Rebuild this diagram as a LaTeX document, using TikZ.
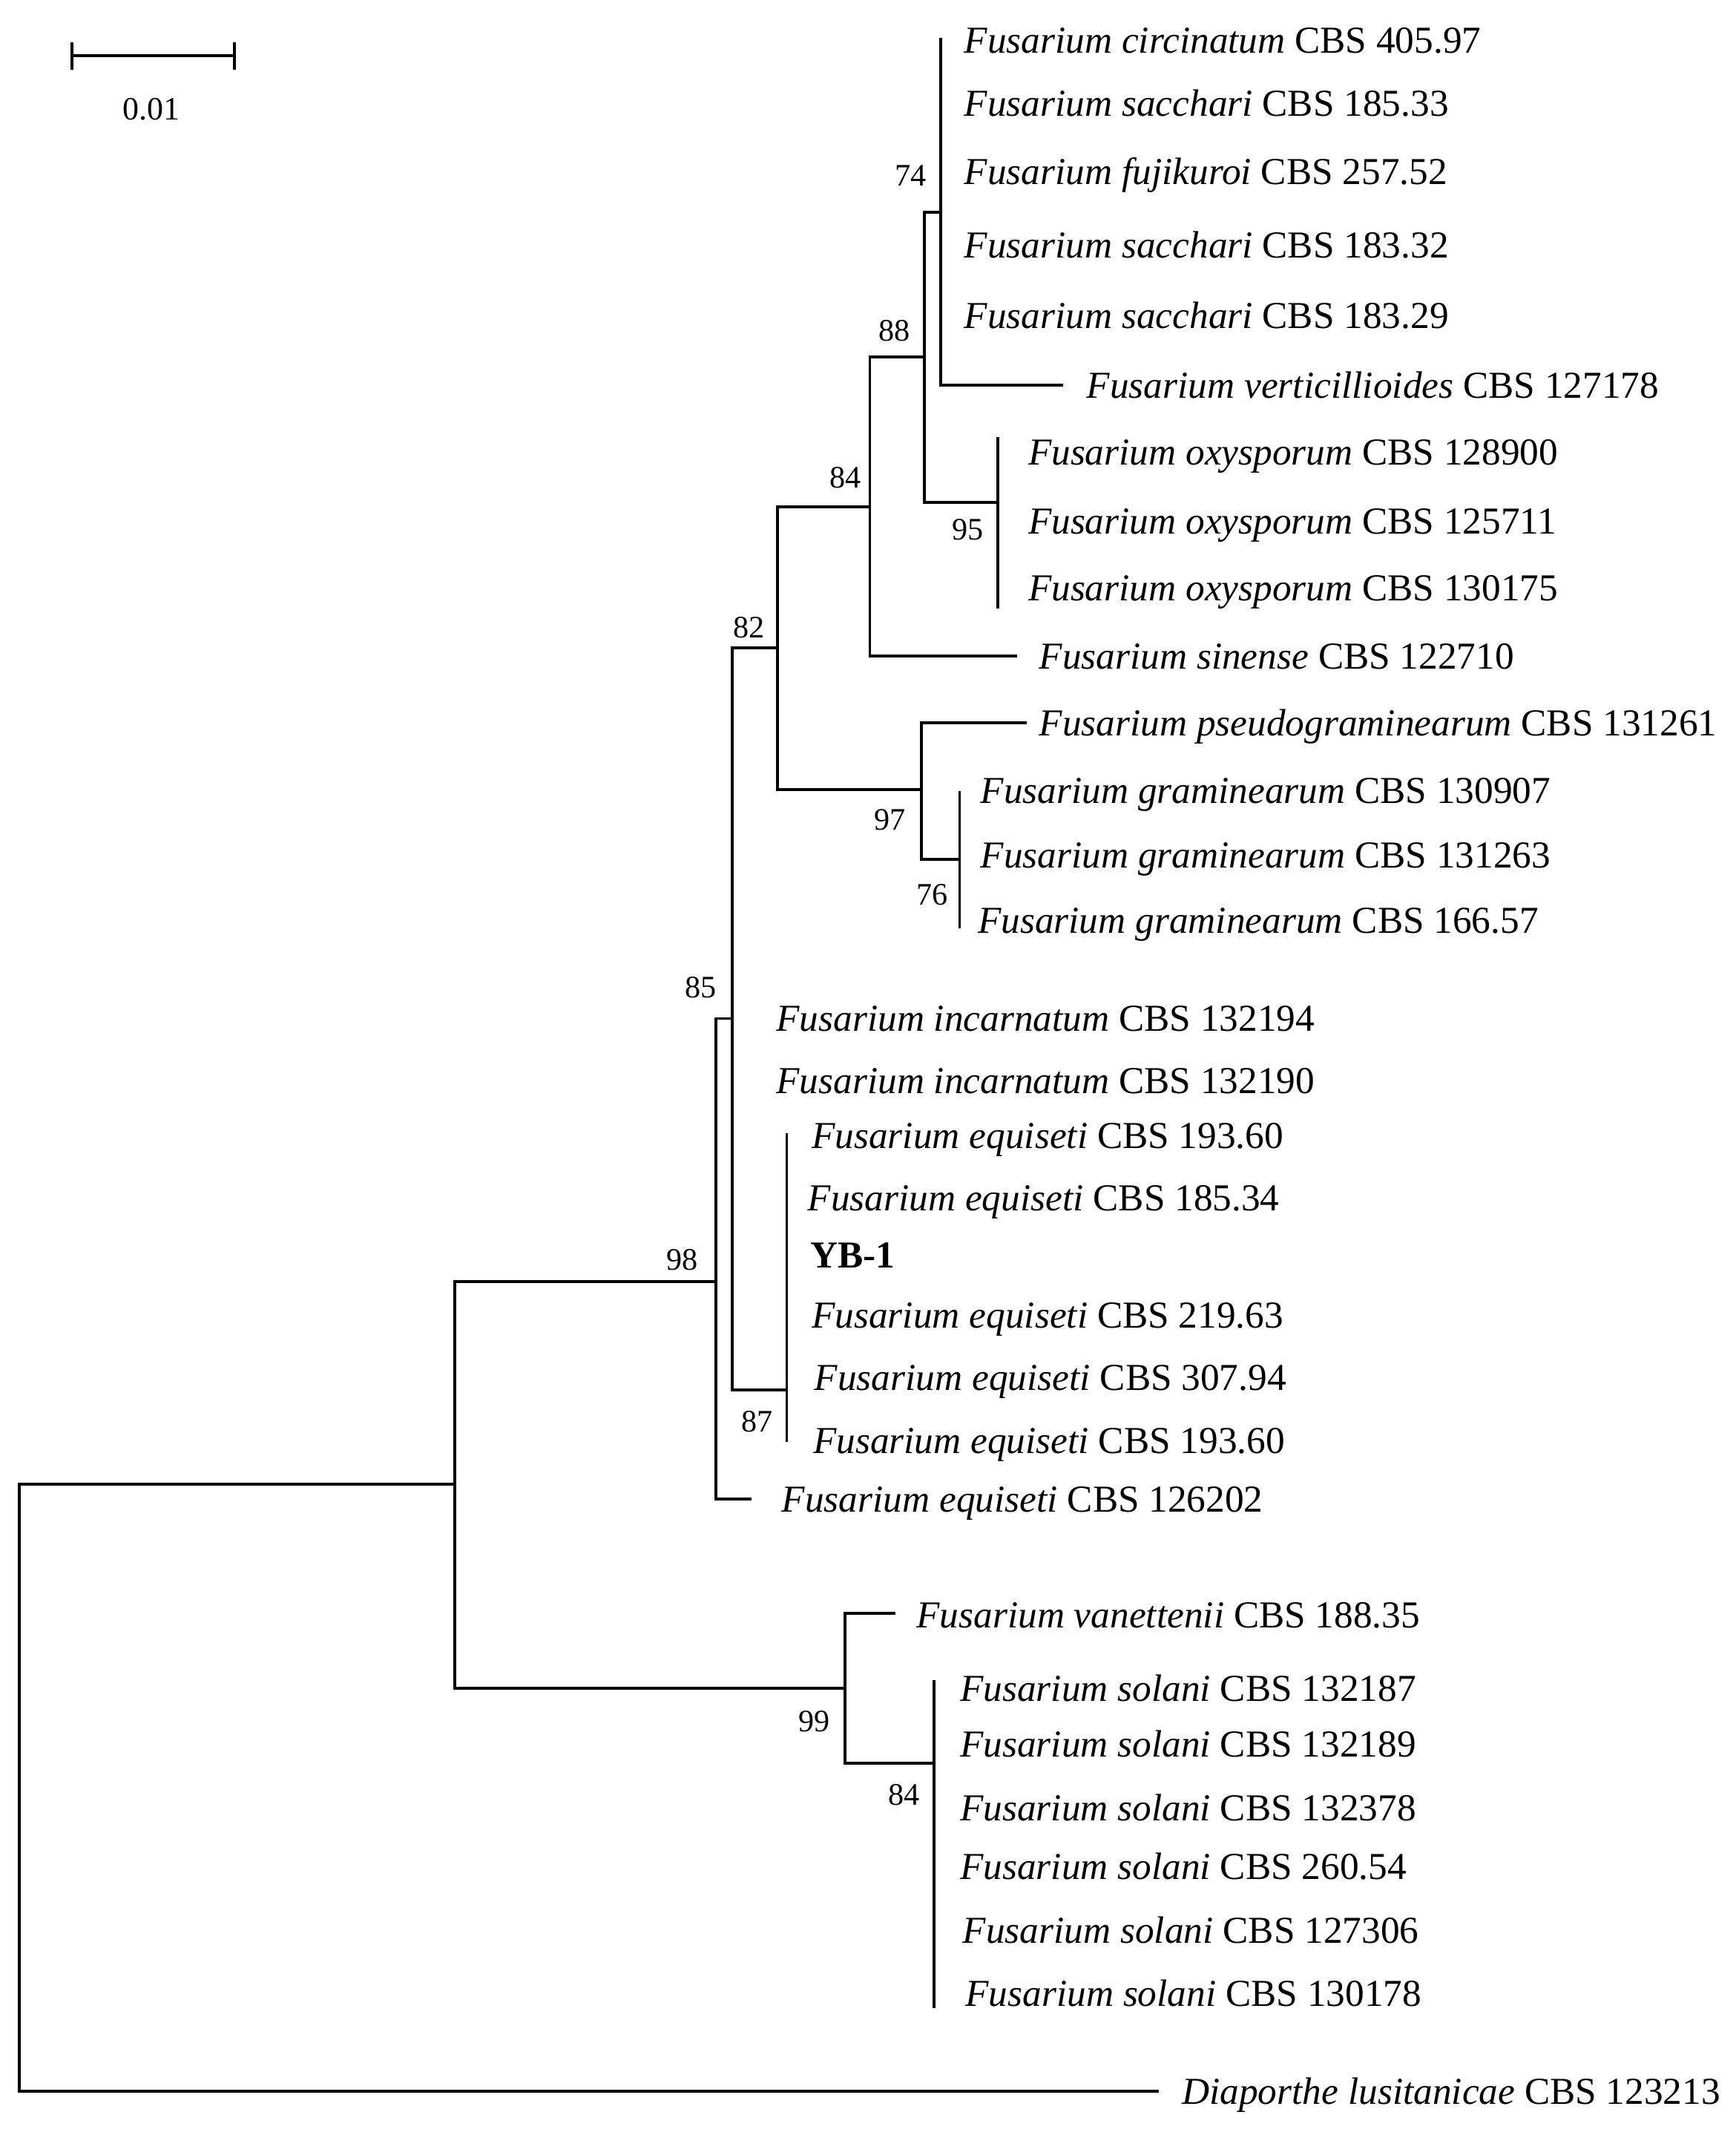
\documentclass[tikz,border=0pt]{standalone}
\usepackage{fontspec}
\setmainfont{Liberation Serif}
\usetikzlibrary{positioning}

\tikzset{
  branch/.style={line width=1.1pt, line cap=rect, line join=miter},
  leaf/.style={anchor=west, inner sep=0pt, text height=9.6pt, text depth=0pt,
    font=\fontsize{14.6}{17}\selectfont},
  boot/.style={inner sep=0pt, font=\fontsize{12}{14}\selectfont},
}
\newcommand{\taxon}[2]{\textit{#1} CBS #2}

\begin{document}
\begin{tikzpicture}[x=0.18345mm, y=-0.18345mm]
  \useasboundingbox (0,0) rectangle (1275,1568);

  % scale bar
  \coordinate (sbL) at (53,41);
  \coordinate (sbR) at (172,41);
  \draw[branch] (sbL) -- (sbR);
  \draw[branch] ([yshift=-0.165cm]sbL) -- ([yshift=0.165cm]sbL);
  \draw[branch] ([yshift=-0.165cm]sbR) -- ([yshift=0.165cm]sbR);
  \node[boot, font=\fontsize{12.5}{14}\selectfont] (sblab) at (111,80) {0.01};

  % internal nodes
  \coordinate (root) at (14.4,1090);
  \coordinate (nA)   at (334,1090);
  \coordinate (n98)  at (526,941);
  \coordinate (n85)  at (538,748);
  \coordinate (n82)  at (571,476);
  \coordinate (n84)  at (639,372);
  \coordinate (n88)  at (679,262);
  \coordinate (n74)  at (691,156);
  \coordinate (n95)  at (733,369);
  \coordinate (n97)  at (677,580);
  \coordinate (n76)  at (705,631);
  \coordinate (n87)  at (578,1021);
  \coordinate (n99)  at (621,1240);
  \coordinate (n84s) at (686,1295);

  % branch ends
  \coordinate (tCir)  at (691,29);
  \coordinate (tVer)  at (780,283);
  \coordinate (tOxA)  at (733,322);
  \coordinate (tOxB)  at (733,446);
  \coordinate (tSin)  at (746,482);
  \coordinate (tPse)  at (753,531);
  \coordinate (tGraA) at (705,582);
  \coordinate (tGraB) at (705,681);
  \coordinate (tEquA) at (578,833);
  \coordinate (tEquB) at (578,1058);
  \coordinate (tEqu)  at (551,1101);
  \coordinate (tVan)  at (657,1185);
  \coordinate (tSolA) at (686,1235);
  \coordinate (tSolB) at (686,1474);
  \coordinate (tDia)  at (850,1536);

  % taxa
  \node[leaf] (cir)   at (708,30)   {\taxon{Fusarium circinatum}{405.97}};
  \node[leaf] (sac1)  at (708,76)   {\taxon{Fusarium sacchari}{185.33}};
  \node[leaf] (fuj)   at (708,126)  {\taxon{Fusarium fujikuroi}{257.52}};
  \node[leaf] (sac2)  at (708,180)  {\taxon{Fusarium sacchari}{183.32}};
  \node[leaf] (sac3)  at (708,232)  {\taxon{Fusarium sacchari}{183.29}};
  \node[leaf] (ver)   at (798,283)  {\taxon{Fusarium verticillioides}{127178}};
  \node[leaf] (oxy1)  at (755,332)  {\taxon{Fusarium oxysporum}{128900}};
  \node[leaf] (oxy2)  at (755,383)  {\taxon{Fusarium oxysporum}{125711}};
  \node[leaf] (oxy3)  at (755,432)  {\taxon{Fusarium oxysporum}{130175}};
  \node[leaf] (sin)   at (763,482)  {\taxon{Fusarium sinense}{122710}};
  \node[leaf] (pse)   at (763,531)  {\taxon{Fusarium pseudograminearum}{131261}};
  \node[leaf] (gra1)  at (720,581)  {\taxon{Fusarium graminearum}{130907}};
  \node[leaf] (gra2)  at (720,628)  {\taxon{Fusarium graminearum}{131263}};
  \node[leaf] (gra3)  at (718,676)  {\taxon{Fusarium graminearum}{166.57}};
  \node[leaf] (inc1)  at (570,748)  {\taxon{Fusarium incarnatum}{132194}};
  \node[leaf] (inc2)  at (570,794)  {\taxon{Fusarium incarnatum}{132190}};
  \node[leaf] (equ1)  at (596,834)  {\taxon{Fusarium equiseti}{193.60}};
  \node[leaf] (equ2)  at (593,880)  {\taxon{Fusarium equiseti}{185.34}};
  \node[leaf] (yb)    at (595,922)  {\textbf{YB-1}};
  \node[leaf] (equ3)  at (596,966)  {\taxon{Fusarium equiseti}{219.63}};
  \node[leaf] (equ4)  at (598,1012) {\taxon{Fusarium equiseti}{307.94}};
  \node[leaf] (equ5)  at (597,1058) {\taxon{Fusarium equiseti}{193.60}};
  \node[leaf] (equ6)  at (574,1101) {\taxon{Fusarium equiseti}{126202}};
  \node[leaf] (van)   at (673,1186) {\taxon{Fusarium vanettenii}{188.35}};
  \node[leaf] (sol1)  at (705,1240) {\taxon{Fusarium solani}{132187}};
  \node[leaf] (sol2)  at (705,1281) {\taxon{Fusarium solani}{132189}};
  \node[leaf] (sol3)  at (705,1328) {\taxon{Fusarium solani}{132378}};
  \node[leaf] (sol4)  at (705,1371) {\taxon{Fusarium solani}{260.54}};
  \node[leaf] (sol5)  at (707,1418) {\taxon{Fusarium solani}{127306}};
  \node[leaf] (sol6)  at (709,1464) {\taxon{Fusarium solani}{130178}};
  \node[leaf] (dia)   at (868,1536) {\taxon{Diaporthe lusitanicae}{123213}};

  % bootstrap values
  \node[boot] (b74)  at (669,129)  {74};
  \node[boot] (b88)  at (657,243)  {88};
  \node[boot] (b84)  at (621,351)  {84};
  \node[boot] (b95)  at (711,389)  {95};
  \node[boot] (b82)  at (550,461)  {82};
  \node[boot] (b97)  at (654,602)  {97};
  \node[boot] (b76)  at (685,657)  {76};
  \node[boot] (b85)  at (515,725)  {85};
  \node[boot] (b98)  at (501,925)  {98};
  \node[boot] (b87)  at (556,1044) {87};
  \node[boot] (b99)  at (598,1264) {99};
  \node[boot] (b84s) at (664,1318) {84};

  % branches
  \draw[branch] (root) |- (nA);
  \draw[branch] (root) |- (tDia);
  \draw[branch] (nA) |- (n98);
  \draw[branch] (nA) |- (n99);
  \draw[branch] (n98) |- (n85);
  \draw[branch] (n98) |- (tEqu);
  \draw[branch] (n85) |- (n82);
  \draw[branch] (n85) |- (n87);
  \draw[branch] (n82) |- (n84);
  \draw[branch] (n82) |- (n97);
  \draw[branch] (n84) |- (n88);
  \draw[branch] (n84) |- (tSin);
  \draw[branch] (n88) |- (n74);
  \draw[branch] (n88) |- (n95);
  \draw[branch] (n74) |- (tCir);
  \draw[branch] (n74) |- (tVer);
  \draw[branch] (n95) |- (tOxA);
  \draw[branch] (n95) |- (tOxB);
  \draw[branch] (n97) |- (tPse);
  \draw[branch] (n97) |- (n76);
  \draw[branch] (n76) |- (tGraA);
  \draw[branch] (n76) |- (tGraB);
  \draw[branch] (n87) |- (tEquA);
  \draw[branch] (n87) |- (tEquB);
  \draw[branch] (n99) |- (tVan);
  \draw[branch] (n99) |- (n84s);
  \draw[branch] (n84s) |- (tSolA);
  \draw[branch] (n84s) |- (tSolB);
\end{tikzpicture}
\end{document}
